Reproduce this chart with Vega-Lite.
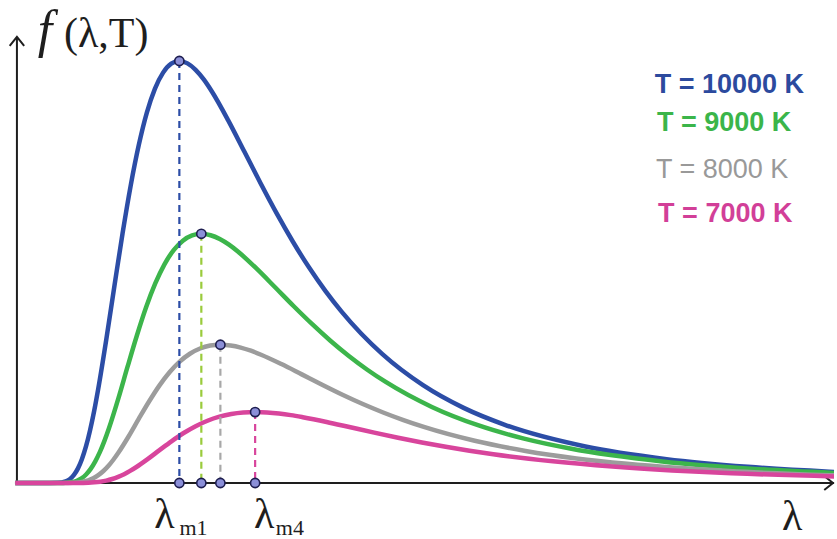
{
  "$schema": "https://vega.github.io/schema/vega-lite/v6.json",
  "width": 837,
  "height": 539,
  "autosize": {"type": "fit", "contains": "padding"},
  "padding": 0,
  "background": "white",
  "config": {"view": {"stroke": null}},
  "datasets": {
    "curves": [
      {"T":"10000 K","lambda":-3,"f":0},{"T":"10000 K","lambda":58,"f":0},{"T":"10000 K","lambda":72.5,"f":0.03},{"T":"10000 K","lambda":86.9,"f":0.38},{"T":"10000 K","lambda":94.2,"f":0.91},{"T":"10000 K","lambda":101.4,"f":1.87},{"T":"10000 K","lambda":108.7,"f":3.41},{"T":"10000 K","lambda":115.9,"f":5.65},{"T":"10000 K","lambda":123.2,"f":8.67},{"T":"10000 K","lambda":130.4,"f":12.46},{"T":"10000 K","lambda":137.7,"f":16.99},{"T":"10000 K","lambda":144.9,"f":22.17},{"T":"10000 K","lambda":159.4,"f":33.96},{"T":"10000 K","lambda":173.9,"f":46.65},{"T":"10000 K","lambda":188.4,"f":59.09},{"T":"10000 K","lambda":202.9,"f":70.42},{"T":"10000 K","lambda":217.4,"f":80.07},{"T":"10000 K","lambda":231.8,"f":87.76},{"T":"10000 K","lambda":246.3,"f":93.46},{"T":"10000 K","lambda":260.8,"f":97.24},{"T":"10000 K","lambda":275.3,"f":99.36},{"T":"10000 K","lambda":289.8,"f":100},{"T":"10000 K","lambda":304.3,"f":99.43},{"T":"10000 K","lambda":318.8,"f":97.91},{"T":"10000 K","lambda":333.3,"f":95.63},{"T":"10000 K","lambda":347.8,"f":92.77},{"T":"10000 K","lambda":376.7,"f":86.0},{"T":"10000 K","lambda":405.7,"f":78.55},{"T":"10000 K","lambda":434.7,"f":71.03},{"T":"10000 K","lambda":463.7,"f":63.82},{"T":"10000 K","lambda":492.7,"f":57.11},{"T":"10000 K","lambda":521.6,"f":50.98},{"T":"10000 K","lambda":550.6,"f":45.46},{"T":"10000 K","lambda":579.6,"f":40.54},{"T":"10000 K","lambda":652.1,"f":30.52},{"T":"10000 K","lambda":724.5,"f":23.18},{"T":"10000 K","lambda":797,"f":17.8},{"T":"10000 K","lambda":869.4,"f":13.84},{"T":"10000 K","lambda":1014.3,"f":8.65},{"T":"10000 K","lambda":1159.2,"f":5.65},{"T":"10000 K","lambda":1304.1,"f":3.83},{"T":"10000 K","lambda":1449,"f":2.68},{"T":"10000 K","lambda":1593.9,"f":1.93},

      {"T":"9000 K","lambda":-3,"f":0},{"T":"9000 K","lambda":65.8,"f":0},{"T":"9000 K","lambda":82.3,"f":0.02},{"T":"9000 K","lambda":98.7,"f":0.22},{"T":"9000 K","lambda":106.9,"f":0.54},{"T":"9000 K","lambda":115.2,"f":1.1},{"T":"9000 K","lambda":123.4,"f":2.01},{"T":"9000 K","lambda":131.6,"f":3.34},{"T":"9000 K","lambda":139.8,"f":5.12},{"T":"9000 K","lambda":148.1,"f":7.36},{"T":"9000 K","lambda":156.3,"f":10.03},{"T":"9000 K","lambda":164.5,"f":13.09},{"T":"9000 K","lambda":181,"f":20.05},{"T":"9000 K","lambda":197.4,"f":27.55},{"T":"9000 K","lambda":213.9,"f":34.89},{"T":"9000 K","lambda":230.3,"f":41.58},{"T":"9000 K","lambda":246.8,"f":47.28},{"T":"9000 K","lambda":263.2,"f":51.82},{"T":"9000 K","lambda":279.7,"f":55.19},{"T":"9000 K","lambda":296.1,"f":57.42},{"T":"9000 K","lambda":312.6,"f":58.67},{"T":"9000 K","lambda":329,"f":59.05},{"T":"9000 K","lambda":345.5,"f":58.71},{"T":"9000 K","lambda":361.9,"f":57.82},{"T":"9000 K","lambda":378.4,"f":56.47},{"T":"9000 K","lambda":394.8,"f":54.78},{"T":"9000 K","lambda":427.7,"f":50.78},{"T":"9000 K","lambda":460.6,"f":46.38},{"T":"9000 K","lambda":493.5,"f":41.94},{"T":"9000 K","lambda":526.4,"f":37.69},{"T":"9000 K","lambda":559.3,"f":33.72},{"T":"9000 K","lambda":592.2,"f":30.1},{"T":"9000 K","lambda":625.1,"f":26.84},{"T":"9000 K","lambda":658,"f":23.94},{"T":"9000 K","lambda":740.3,"f":18.02},{"T":"9000 K","lambda":822.5,"f":13.69},{"T":"9000 K","lambda":904.8,"f":10.51},{"T":"9000 K","lambda":987,"f":8.17},{"T":"9000 K","lambda":1151.5,"f":5.11},{"T":"9000 K","lambda":1316,"f":3.34},{"T":"9000 K","lambda":1480.5,"f":2.26},

      {"T":"8000 K","lambda":-3,"f":0},{"T":"8000 K","lambda":72.6,"f":0},{"T":"8000 K","lambda":90.8,"f":0.01},{"T":"8000 K","lambda":108.9,"f":0.12},{"T":"8000 K","lambda":118,"f":0.3},{"T":"8000 K","lambda":127.1,"f":0.61},{"T":"8000 K","lambda":136.1,"f":1.12},{"T":"8000 K","lambda":145.2,"f":1.85},{"T":"8000 K","lambda":154.3,"f":2.84},{"T":"8000 K","lambda":163.4,"f":4.08},{"T":"8000 K","lambda":172.4,"f":5.57},{"T":"8000 K","lambda":181.5,"f":7.27},{"T":"8000 K","lambda":199.7,"f":11.13},{"T":"8000 K","lambda":217.8,"f":15.29},{"T":"8000 K","lambda":236,"f":19.36},{"T":"8000 K","lambda":254.1,"f":23.08},{"T":"8000 K","lambda":272.3,"f":26.24},{"T":"8000 K","lambda":290.4,"f":28.76},{"T":"8000 K","lambda":308.6,"f":30.63},{"T":"8000 K","lambda":326.7,"f":31.87},{"T":"8000 K","lambda":344.9,"f":32.56},{"T":"8000 K","lambda":363,"f":32.77},{"T":"8000 K","lambda":381.2,"f":32.58},{"T":"8000 K","lambda":399.3,"f":32.09},{"T":"8000 K","lambda":417.5,"f":31.34},{"T":"8000 K","lambda":435.6,"f":30.4},{"T":"8000 K","lambda":471.9,"f":28.18},{"T":"8000 K","lambda":508.2,"f":25.74},{"T":"8000 K","lambda":544.5,"f":23.28},{"T":"8000 K","lambda":580.8,"f":20.91},{"T":"8000 K","lambda":617.1,"f":18.71},{"T":"8000 K","lambda":653.4,"f":16.71},{"T":"8000 K","lambda":689.7,"f":14.9},{"T":"8000 K","lambda":726,"f":13.28},{"T":"8000 K","lambda":816.8,"f":10},{"T":"8000 K","lambda":907.5,"f":7.6},{"T":"8000 K","lambda":998.3,"f":5.83},{"T":"8000 K","lambda":1089,"f":4.54},{"T":"8000 K","lambda":1270.5,"f":2.83},{"T":"8000 K","lambda":1452,"f":1.85},{"T":"8000 K","lambda":1633.5,"f":1.26},

      {"T":"7000 K","lambda":-3,"f":0},{"T":"7000 K","lambda":85,"f":0},{"T":"7000 K","lambda":106.3,"f":0.01},{"T":"7000 K","lambda":127.5,"f":0.06},{"T":"7000 K","lambda":138.1,"f":0.15},{"T":"7000 K","lambda":148.8,"f":0.31},{"T":"7000 K","lambda":159.4,"f":0.57},{"T":"7000 K","lambda":170,"f":0.95},{"T":"7000 K","lambda":180.6,"f":1.46},{"T":"7000 K","lambda":191.3,"f":2.09},{"T":"7000 K","lambda":201.9,"f":2.86},{"T":"7000 K","lambda":212.5,"f":3.73},{"T":"7000 K","lambda":233.8,"f":5.71},{"T":"7000 K","lambda":255,"f":7.84},{"T":"7000 K","lambda":276.3,"f":9.93},{"T":"7000 K","lambda":297.5,"f":11.84},{"T":"7000 K","lambda":318.8,"f":13.46},{"T":"7000 K","lambda":340,"f":14.75},{"T":"7000 K","lambda":361.3,"f":15.71},{"T":"7000 K","lambda":382.5,"f":16.35},{"T":"7000 K","lambda":403.8,"f":16.7},{"T":"7000 K","lambda":425,"f":16.81},{"T":"7000 K","lambda":446.3,"f":16.71},{"T":"7000 K","lambda":467.5,"f":16.46},{"T":"7000 K","lambda":488.8,"f":16.08},{"T":"7000 K","lambda":510,"f":15.59},{"T":"7000 K","lambda":552.5,"f":14.46},{"T":"7000 K","lambda":595,"f":13.2},{"T":"7000 K","lambda":637.5,"f":11.94},{"T":"7000 K","lambda":680,"f":10.73},{"T":"7000 K","lambda":722.5,"f":9.6},{"T":"7000 K","lambda":765,"f":8.57},{"T":"7000 K","lambda":807.5,"f":7.64},{"T":"7000 K","lambda":850,"f":6.81},{"T":"7000 K","lambda":956.3,"f":5.13},{"T":"7000 K","lambda":1062.5,"f":3.9},{"T":"7000 K","lambda":1168.8,"f":2.99},{"T":"7000 K","lambda":1275,"f":2.33},{"T":"7000 K","lambda":1487.5,"f":1.45},{"T":"7000 K","lambda":1700,"f":0.95}
    ],
    "peaks": [
      {"T":"10000 K","lambda":289.8,"f":100},
      {"T":"9000 K","lambda":329,"f":59.05},
      {"T":"8000 K","lambda":363,"f":32.77},
      {"T":"7000 K","lambda":425,"f":16.81}
    ],
    "one": [{"k": 1}]
  },
  "resolve": {"scale": {"color": "independent"}},
  "layer": [
    {
      "data": {"name": "one"},
      "mark": {"type": "rule", "color": "#1e1e1e", "strokeWidth": 2},
      "encoding": {
        "x": {"datum": 0, "type": "quantitative", "scale": {"domain": [-30.2, 1457.8], "nice": false, "zero": false}, "axis": null},
        "y": {"datum": 0, "type": "quantitative", "scale": {"domain": [-13.27, 114.45], "nice": false, "zero": false}, "axis": null},
        "y2": {"datum": 105.7}
      }
    },
    {
      "data": {"name": "one"},
      "mark": {"type": "rule", "color": "#1e1e1e", "strokeWidth": 2},
      "encoding": {
        "x": {"datum": -3.5, "type": "quantitative", "scale": {"domain": [-30.2, 1457.8], "nice": false, "zero": false}, "axis": null},
        "x2": {"datum": 1457.8},
        "y": {"datum": 0, "type": "quantitative", "scale": {"domain": [-13.27, 114.45], "nice": false, "zero": false}, "axis": null}
      }
    },
    {
      "data": {"name": "one"},
      "mark": {"type": "point", "shape": "M-1,1.25L0,0L1,1.25", "size": 210, "filled": false, "stroke": "#1e1e1e", "strokeWidth": 2, "opacity": 1},
      "encoding": {
        "x": {"datum": 0, "type": "quantitative", "scale": {"domain": [-30.2, 1457.8], "nice": false, "zero": false}, "axis": null},
        "y": {"datum": 105.7, "type": "quantitative", "scale": {"domain": [-13.27, 114.45], "nice": false, "zero": false}, "axis": null}
      }
    },
    {
      "data": {"name": "one"},
      "mark": {"type": "point", "shape": "M-1,1.25L0,0L1,1.25", "size": 196, "angle": 90, "filled": false, "stroke": "#1e1e1e", "strokeWidth": 2, "opacity": 1},
      "encoding": {
        "x": {"datum": 1456, "type": "quantitative", "scale": {"domain": [-30.2, 1457.8], "nice": false, "zero": false}, "axis": null},
        "y": {"datum": 0, "type": "quantitative", "scale": {"domain": [-13.27, 114.45], "nice": false, "zero": false}, "axis": null}
      }
    },
    {
      "data": {"name": "curves"},
      "mark": {"type": "line", "interpolate": "monotone", "strokeWidth": 4.5, "clip": true},
      "encoding": {
        "x": {"field": "lambda", "type": "quantitative", "scale": {"domain": [-30.2, 1457.8], "nice": false, "zero": false}, "axis": null},
        "y": {"field": "f", "type": "quantitative", "scale": {"domain": [-13.27, 114.45], "nice": false, "zero": false}, "axis": null},
        "color": {"field": "T", "type": "nominal", "legend": null,
          "scale": {"domain": ["10000 K", "9000 K", "8000 K", "7000 K"], "range": ["#2c4da6", "#3cb54b", "#9c9c9c", "#d8459c"]}}
      }
    },
    {
      "data": {"name": "peaks"},
      "mark": {"type": "rule", "strokeWidth": 2.2, "strokeDash": [7, 5]},
      "encoding": {
        "x": {"field": "lambda", "type": "quantitative", "scale": {"domain": [-30.2, 1457.8], "nice": false, "zero": false}, "axis": null},
        "y": {"field": "f", "type": "quantitative", "scale": {"domain": [-13.27, 114.45], "nice": false, "zero": false}, "axis": null},
        "y2": {"datum": 0},
        "color": {"field": "T", "type": "nominal", "legend": null,
          "scale": {"domain": ["10000 K", "9000 K", "8000 K", "7000 K"], "range": ["#2c4da6", "#9acb3c", "#a8a8a8", "#d8459c"]}}
      }
    },
    {
      "data": {"name": "peaks"},
      "mark": {"type": "point", "shape": "circle", "filled": true, "size": 85, "fill": "#8b8fd8", "stroke": "#1d1d4f", "strokeWidth": 1.6, "opacity": 1},
      "encoding": {
        "x": {"field": "lambda", "type": "quantitative", "scale": {"domain": [-30.2, 1457.8], "nice": false, "zero": false}, "axis": null},
        "y": {"field": "f", "type": "quantitative", "scale": {"domain": [-13.27, 114.45], "nice": false, "zero": false}, "axis": null}
      }
    },
    {
      "data": {"name": "peaks"},
      "mark": {"type": "point", "shape": "circle", "filled": true, "size": 85, "fill": "#8b8fd8", "stroke": "#1d1d4f", "strokeWidth": 1.6, "opacity": 1},
      "encoding": {
        "x": {"field": "lambda", "type": "quantitative", "scale": {"domain": [-30.2, 1457.8], "nice": false, "zero": false}, "axis": null},
        "y": {"datum": 0, "type": "quantitative", "scale": {"domain": [-13.27, 114.45], "nice": false, "zero": false}, "axis": null}
      }
    },
    {
      "data": {"name": "one"},
      "mark": {"type": "text", "text": "f", "align": "left", "baseline": "alphabetic", "font": "Liberation Serif", "fontStyle": "italic", "fontSize": 52, "color": "#1e1e1e"},
      "encoding": {
        "x": {"datum": 37, "type": "quantitative", "scale": {"domain": [-30.2, 1457.8], "nice": false, "zero": false}, "axis": null},
        "y": {"datum": 103.3, "type": "quantitative", "scale": {"domain": [-13.27, 114.45], "nice": false, "zero": false}, "axis": null}
      }
    },
    {
      "data": {"name": "one"},
      "mark": {"type": "text", "text": "(λ,T)", "align": "left", "baseline": "alphabetic", "font": "Liberation Serif", "fontSize": 42, "color": "#1e1e1e"},
      "encoding": {
        "x": {"datum": 84, "type": "quantitative", "scale": {"domain": [-30.2, 1457.8], "nice": false, "zero": false}, "axis": null},
        "y": {"datum": 103.3, "type": "quantitative", "scale": {"domain": [-13.27, 114.45], "nice": false, "zero": false}, "axis": null}
      }
    },
    {
      "data": {"name": "one"},
      "mark": {"type": "text", "text": "λ", "align": "left", "baseline": "alphabetic", "font": "Liberation Serif", "fontSize": 42, "color": "#1e1e1e"},
      "encoding": {
        "x": {"datum": 1365, "type": "quantitative", "scale": {"domain": [-30.2, 1457.8], "nice": false, "zero": false}, "axis": null},
        "y": {"datum": -11.1, "type": "quantitative", "scale": {"domain": [-13.27, 114.45], "nice": false, "zero": false}, "axis": null}
      }
    },
    {
      "data": {"name": "one"},
      "mark": {"type": "text", "text": "λ", "align": "left", "baseline": "alphabetic", "font": "Liberation Serif", "fontSize": 42, "color": "#1e1e1e"},
      "encoding": {
        "x": {"datum": 245, "type": "quantitative", "scale": {"domain": [-30.2, 1457.8], "nice": false, "zero": false}, "axis": null},
        "y": {"datum": -10.7, "type": "quantitative", "scale": {"domain": [-13.27, 114.45], "nice": false, "zero": false}, "axis": null}
      }
    },
    {
      "data": {"name": "one"},
      "mark": {"type": "text", "text": "m1", "align": "left", "baseline": "alphabetic", "font": "Liberation Serif", "fontSize": 22, "color": "#1e1e1e"},
      "encoding": {
        "x": {"datum": 290, "type": "quantitative", "scale": {"domain": [-30.2, 1457.8], "nice": false, "zero": false}, "axis": null},
        "y": {"datum": -12.3, "type": "quantitative", "scale": {"domain": [-13.27, 114.45], "nice": false, "zero": false}, "axis": null}
      }
    },
    {
      "data": {"name": "one"},
      "mark": {"type": "text", "text": "λ", "align": "left", "baseline": "alphabetic", "font": "Liberation Serif", "fontSize": 42, "color": "#1e1e1e"},
      "encoding": {
        "x": {"datum": 423, "type": "quantitative", "scale": {"domain": [-30.2, 1457.8], "nice": false, "zero": false}, "axis": null},
        "y": {"datum": -10.7, "type": "quantitative", "scale": {"domain": [-13.27, 114.45], "nice": false, "zero": false}, "axis": null}
      }
    },
    {
      "data": {"name": "one"},
      "mark": {"type": "text", "text": "m4", "align": "left", "baseline": "alphabetic", "font": "Liberation Serif", "fontSize": 22, "color": "#1e1e1e"},
      "encoding": {
        "x": {"datum": 462, "type": "quantitative", "scale": {"domain": [-30.2, 1457.8], "nice": false, "zero": false}, "axis": null},
        "y": {"datum": -12.3, "type": "quantitative", "scale": {"domain": [-13.27, 114.45], "nice": false, "zero": false}, "axis": null}
      }
    },
    {
      "data": {"name": "one"},
      "mark": {"type": "text", "text": "T = 10000 K", "align": "left", "baseline": "alphabetic", "font": "Liberation Sans", "fontWeight": "bold", "fontSize": 27, "color": "#2c4a9e"},
      "encoding": {
        "x": {"datum": 1138, "type": "quantitative", "scale": {"domain": [-30.2, 1457.8], "nice": false, "zero": false}, "axis": null},
        "y": {"datum": 92.4, "type": "quantitative", "scale": {"domain": [-13.27, 114.45], "nice": false, "zero": false}, "axis": null}
      }
    },
    {
      "data": {"name": "one"},
      "mark": {"type": "text", "text": "T = 9000 K", "align": "left", "baseline": "alphabetic", "font": "Liberation Sans", "fontWeight": "bold", "fontSize": 27, "color": "#3bb54a"},
      "encoding": {
        "x": {"datum": 1142, "type": "quantitative", "scale": {"domain": [-30.2, 1457.8], "nice": false, "zero": false}, "axis": null},
        "y": {"datum": 83.4, "type": "quantitative", "scale": {"domain": [-13.27, 114.45], "nice": false, "zero": false}, "axis": null}
      }
    },
    {
      "data": {"name": "one"},
      "mark": {"type": "text", "text": "T = 8000 K", "align": "left", "baseline": "alphabetic", "font": "Liberation Sans", "fontWeight": "normal", "fontSize": 27, "color": "#999999"},
      "encoding": {
        "x": {"datum": 1140, "type": "quantitative", "scale": {"domain": [-30.2, 1457.8], "nice": false, "zero": false}, "axis": null},
        "y": {"datum": 72.2, "type": "quantitative", "scale": {"domain": [-13.27, 114.45], "nice": false, "zero": false}, "axis": null}
      }
    },
    {
      "data": {"name": "one"},
      "mark": {"type": "text", "text": "T = 7000 K", "align": "left", "baseline": "alphabetic", "font": "Liberation Sans", "fontWeight": "bold", "fontSize": 27, "color": "#d23f98"},
      "encoding": {
        "x": {"datum": 1144, "type": "quantitative", "scale": {"domain": [-30.2, 1457.8], "nice": false, "zero": false}, "axis": null},
        "y": {"datum": 61.9, "type": "quantitative", "scale": {"domain": [-13.27, 114.45], "nice": false, "zero": false}, "axis": null}
      }
    }
  ]
}
